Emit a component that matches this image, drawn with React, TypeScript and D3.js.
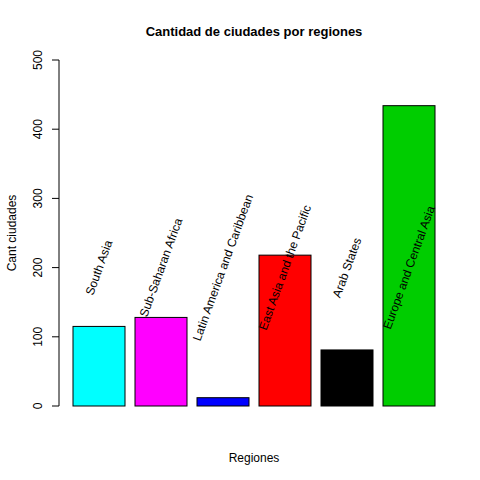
import React from "react";
import * as d3 from "d3";

const regions = [
  "South Asia",
  "Sub-Saharan Africa",
  "Latin America and Caribbean",
  "East Asia and the Pacific",
  "Arab States",
  "Europe and Central Asia",
];
const counts = [115, 128, 12, 218, 81, 434];
const colors = ["#00FFFF", "#FF00FF", "#0000FF", "#FF0000", "#000000", "#00CD00"];
const yTicks = [0, 100, 200, 300, 400, 500];

const App: React.FC = () => {
  const x = d3
    .scaleBand<string>()
    .domain(regions)
    .range([68, 440])
    .paddingInner(10 / 62)
    .paddingOuter(5 / 62);
  const y = d3.scaleLinear().domain([0, 500]).range([406, 60]);
  const font = "Arial, 'Liberation Sans', sans-serif";

  return (
    <svg
      width={480}
      height={480}
      style={{ position: "absolute", left: 0, top: 0, background: "#fff" }}
      fontFamily={font}
    >
      <rect width={480} height={480} fill="#fff" />
      <text x={254} y={36} textAnchor="middle" fontWeight="bold" fontSize={13}>
        Cantidad de ciudades por regiones
      </text>
      {regions.map((r, i) => (
        <rect
          key={r}
          x={x(r)!}
          y={y(counts[i])}
          width={x.bandwidth()}
          height={y(0) - y(counts[i])}
          fill={colors[i]}
          stroke="#000"
        />
      ))}
      {regions.map((r) => {
        const cx = x(r)! + x.bandwidth() / 2;
        const cy = y(200);
        return (
          <text
            key={"l" + r}
            x={cx}
            y={cy}
            textAnchor="middle"
            dominantBaseline="central"
            fontSize={12}
            transform={`rotate(-70 ${cx} ${cy})`}
          >
            {r}
          </text>
        );
      })}
      <line x1={59} x2={59} y1={y(0)} y2={y(500)} stroke="#000" />
      {yTicks.map((t) => (
        <g key={t}>
          <line x1={52} x2={59} y1={y(t)} y2={y(t)} stroke="#000" />
          <text
            x={42}
            y={y(t)}
            fontSize={12}
            textAnchor="middle"
            transform={`rotate(-90 42 ${y(t)})`}
          >
            {t}
          </text>
        </g>
      ))}
      <text x={254} y={462} textAnchor="middle" fontSize={12}>
        Regiones
      </text>
      <text
        x={16}
        y={233}
        textAnchor="middle"
        fontSize={12}
        transform="rotate(-90 16 233)"
      >
        Cant ciudades
      </text>
    </svg>
  );
};

export default App;
